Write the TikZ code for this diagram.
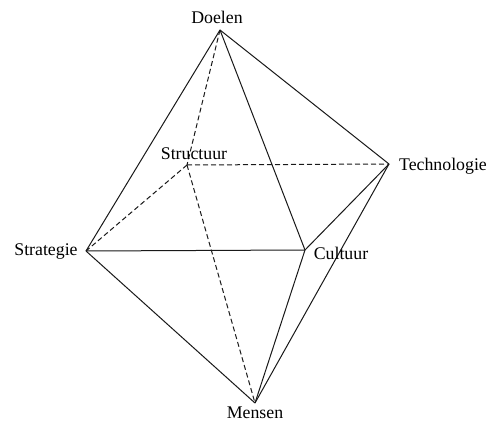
\documentclass[tikz,border=0pt]{standalone}
\usepackage{fontspec}
\setmainfont{Liberation Serif}
\begin{document}
\begin{tikzpicture}[x=1pt,y=-1pt,
  edge/.style={line width=1pt, black!90},
  hidden/.style={edge, dash pattern=on 5pt off 3pt},
  lbl/.style={font=\fontsize{17.8}{20}\selectfont, inner sep=0pt}]
\useasboundingbox[fill=white] (0,0) rectangle (496,423);
% vertices of the octahedron
\coordinate (D) at (220,30);
\coordinate (S) at (187,165);
\coordinate (T) at (389,164);
\coordinate (G) at (86,251);
\coordinate (C) at (305,250);
\coordinate (M) at (255,403);
% visible edges
\draw[edge] (D) -- (G);
\draw[edge] (D) -- (T);
\draw[edge] (D) -- (C);
\draw[edge] (G) -- (C);
\draw[edge] (G) -- (M);
\draw[edge] (C) -- (T);
\draw[edge] (C) -- (M);
\draw[edge] (T) -- (M);
% hidden edges
\draw[hidden] (D) -- (S);
\draw[hidden] (S) -- (T);
\draw[hidden] (S) -- (G);
\draw[hidden] (S) -- (M);
% labels
\node[lbl] (ld) at (217,17) {Doelen};
\node[lbl] (ls) at (194,154) {Structuur};
\node[lbl] (lt) at (443,166) {Technologie};
\node[lbl] (lg) at (46,252) {Strategie};
\node[lbl] (lc) at (341,253) {Cultuur};
\node[lbl] (lm) at (255,413) {Mensen};
\end{tikzpicture}
\end{document}
